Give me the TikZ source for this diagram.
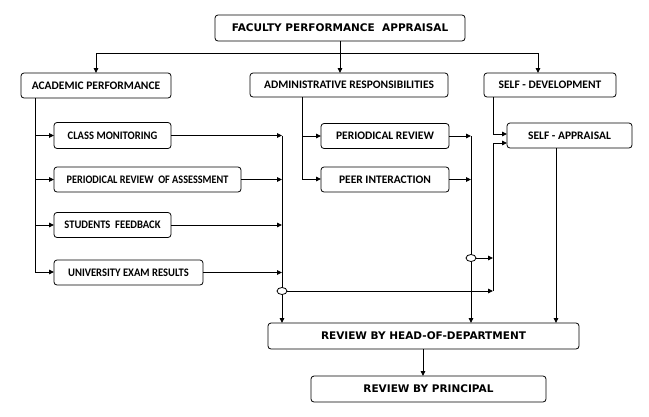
\documentclass[tikz,border=0pt]{standalone}
\usepackage{fontspec}
\newfontfamily\calibfont{Carlito}
\newfontfamily\verdfont{DejaVu Sans}
\usetikzlibrary{arrows.meta,shapes.geometric}
\tikzset{
  box/.style={draw, rounded corners=3pt, line width=0.8pt, inner sep=0pt, outer sep=0pt, minimum height=25pt, align=center},
  cbox/.style={box, font=\calibfont\bfseries\fontsize{11.5}{13}\selectfont},
  vbox/.style={box, font=\verdfont\bfseries\fontsize{10.5}{12}\selectfont},
  conn/.style={line width=0.9pt},
  arr/.style={conn, -{Triangle[length=5pt,width=4.5pt]}},
  junc/.style={draw, ellipse, fill=white, line width=0.8pt, minimum width=10pt, minimum height=7pt, inner sep=0pt},
}
\begin{document}
\begin{tikzpicture}[x=1pt,y=-1pt]
\useasboundingbox (0,0) rectangle (649,416);
% boxes
\node[vbox, minimum width=250pt, minimum height=26pt] (top) at (340,28) {FACULTY PERFORMANCE~~APPRAISAL};
\node[cbox, minimum width=150pt] (acad) at (96,85.5) {ACADEMIC PERFORMANCE};
\node[cbox, minimum width=198pt, minimum height=24pt] (admin) at (349,85) {ADMINISTRATIVE RESPONSIBILITIES};
\node[cbox, minimum width=132pt, minimum height=24pt] (self) at (550,85) {SELF - DEVELOPMENT};
\node[cbox, minimum width=117pt, minimum height=26pt] (class) at (112.5,135.5) {\scalebox{0.92}[1]{CLASS MONITORING}};
\node[cbox, minimum width=187pt] (pra) at (147.5,179.5) {\scalebox{0.89}[1]{PERIODICAL REVIEW~~OF ASSESSMENT}};
\node[cbox, minimum width=117pt] (stud) at (112.5,225) {\scalebox{0.92}[1]{STUDENTS~~FEEDBACK}};
\node[cbox, minimum width=149pt] (univ) at (128.5,272.5) {\scalebox{0.92}[1]{UNIVERSITY EXAM RESULTS}};
\node[cbox, minimum width=128pt] (perrev) at (385,136) {PERIODICAL REVIEW};
\node[cbox, minimum width=128pt] (peer) at (385,179.5) {PEER INTERACTION};
\node[cbox, minimum width=125pt] (sa) at (569.5,135.5) {SELF - APPRAISAL};
\node[vbox, minimum width=311pt, minimum height=26pt] (hod) at (423.5,336) {REVIEW BY HEAD-OF-DEPARTMENT};
\node[vbox, minimum width=235pt, minimum height=26pt] (prin) at (428.5,389) {REVIEW BY PRINCIPAL};
% junction coordinates
\coordinate (tj) at (340,53);
\coordinate (tl) at (96,53);
\coordinate (tr) at (538,53);
\coordinate (ab) at (35,272);
\coordinate (mb) at (302,179);
\coordinate (sj) at (493,134);
\coordinate (cv) at (282,134);
\coordinate (pv) at (471,134);
\coordinate (rv) at (493,291);
\coordinate (rv2) at (493,258);
\coordinate (rvt) at (493,143);
% top distribution
\draw[conn] (top.south) -- (tj);
\draw[conn] (tl) -- (tr);
\draw[arr] (tl) -- (acad.north -| tl);
\draw[arr] (tj) -- (admin.north -| tj);
\draw[arr] (tr) -- (self.north -| tr);
% academic branch
\draw[conn] (acad.south -| ab) -- (ab);
\draw[arr] (ab |- class.west) -- (class.west);
\draw[arr] (ab |- pra.west) -- (pra.west);
\draw[arr] (ab |- stud.west) -- (stud.west);
\draw[arr] (ab) -- (ab -| univ.west);
% administrative branch
\draw[conn] (admin.south -| mb) -- (mb);
\draw[arr] (mb |- perrev.west) -- (perrev.west);
\draw[arr] (mb) -- (mb -| peer.west);
% self development branch
\draw[conn] (self.south -| sj) -- (sj);
\draw[arr] (sj) -- (sj -| sa.west);
% academic outputs
\draw[arr] (class.east) -- (cv |- class.east);
\draw[arr] (pra.east) -- (cv |- pra.east);
\draw[arr] (stud.east) -- (cv |- stud.east);
\draw[arr] (univ.east) -- (cv |- univ.east);
\draw[arr] (cv |- class.east) -- (cv |- hod.north);
% administrative outputs
\draw[arr] (perrev.east) -- (pv |- perrev.east);
\draw[arr] (peer.east) -- (pv |- peer.east);
\draw[arr] (pv |- perrev.east) -- (pv |- hod.north);
% junctions
\node[junc] (j1) at (282,291) {};
\node[junc] (j2) at (471,258) {};
\draw[arr] (j1.east) -- (rv);
\draw[arr] (j2.east) -- (rv2);
\draw[conn] (rv) -- (rvt);
\draw[arr] (rvt) -- (rvt -| sa.west);
% self appraisal output
\draw[arr] (sa.south -| 556,0) -- (hod.north -| 556,0);
% final
\draw[arr] (hod.south -| 423,0) -- (prin.north -| 423,0);
\end{tikzpicture}
\end{document}
